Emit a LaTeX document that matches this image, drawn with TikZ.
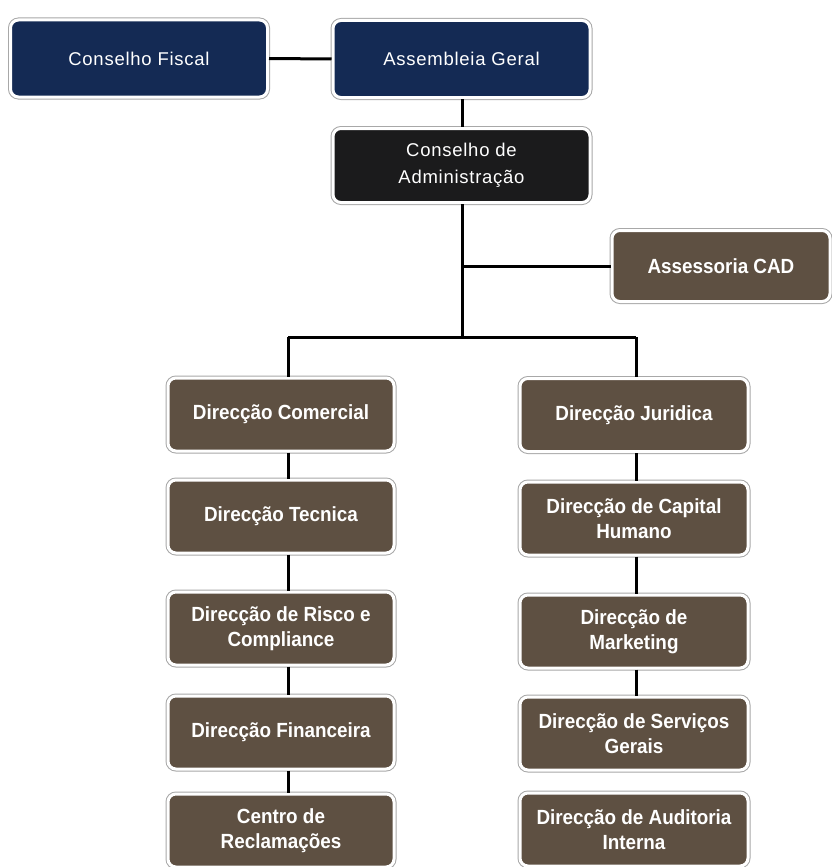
\documentclass[tikz,border=0pt]{standalone}
\usepackage{fontspec}
\setmainfont{Liberation Sans}
\newfontfamily\topfont[LetterSpace=4]{Liberation Sans}
\newfontfamily\brownfont[FakeStretch=0.92]{Liberation Sans Bold}
\definecolor{navy}{HTML}{142A54}
\definecolor{darkbox}{HTML}{1B1B1C}
\definecolor{brownbox}{HTML}{5E5042}
\definecolor{ringgray}{HTML}{A8A8A8}
\tikzset{
  box/.style={rounded corners=8pt, text=white, align=center, inner sep=0pt,
    draw=white, line width=3pt,
    preaction={draw=ringgray, line width=5pt}},
  topbox/.style={box, font={\topfont\fontsize{18.5}{27}\selectfont}},
  navybox/.style={topbox, fill=navy, minimum width=257pt, minimum height=77pt},
  blackbox/.style={topbox, fill=darkbox, minimum width=257pt, minimum height=74pt},
  brbox/.style={box, fill=brownbox, font={\brownfont\fontsize{20.5}{25}\selectfont},
    minimum width=226pt, minimum height=73pt},
  link/.style={draw=black, line width=3pt}
}
\begin{document}
\begin{tikzpicture}[x=1pt,y=-1pt]
\useasboundingbox (0,0) rectangle (832,867);
\fill[white] (0,0) rectangle (832,867);
% top
\node[navybox] (cf) at (139,58.5) {Conselho Fiscal};
\node[navybox] (ag) at (461.5,59) {Assembleia Geral};
\node[blackbox] (ca) at (461.5,165.5) {Conselho de\\Administração};
\node[brbox, minimum width=218pt, minimum height=71pt] (cad) at (721,266) {Assessoria CAD};
% left column
\node[brbox] (dc) at (281,414.5) {Direcção Comercial};
\node[brbox] (dt) at (281,516.5) {Direcção Tecnica};
\node[brbox] (dr) at (281,628.5) {Direcção de Risco e\\Compliance};
\node[brbox] (df) at (281,732.5) {Direcção Financeira};
\node[brbox] (cr) at (281,830.5) {Centro de\\Reclamações};
% right column
\node[brbox, minimum width=228pt] (dj) at (634,415) {Direcção Juridica};
\node[brbox, minimum width=228pt] (dh) at (634,518.5) {Direcção de Capital\\Humano};
\node[brbox, minimum width=228pt] (dm) at (634,631.5) {Direcção de\\Marketing};
\node[brbox, minimum width=228pt] (ds) at (634,733.5) {Direcção de Serviços\\Gerais};
\node[brbox, minimum width=228pt] (da) at (634,829.5) {Direcção de Auditoria\\Interna};
% helper coordinates
\coordinate (spine) at (462,0);
\coordinate (colL) at (288,0);
\coordinate (colR) at (636,0);
\coordinate (junc) at (462,337);
\coordinate (jL) at (288,337);
\coordinate (jR) at (636,337);
% connectors
\draw[link] (cf.east) -- (ag.west);
\draw[link] (ag.south -| spine) -- (ca.north -| spine);
\draw[link] (ca.south -| spine) -- (junc);
\draw[link] (cad.west -| spine) -- (cad.west);
\draw[link] (jL) -- (jR);
\draw[link] (jL) -- (dc.north -| colL);
\draw[link] (jR) -- (dj.north -| colR);
\draw[link] (dc.south -| colL) -- (dt.north -| colL);
\draw[link] (dt.south -| colL) -- (dr.north -| colL);
\draw[link] (dr.south -| colL) -- (df.north -| colL);
\draw[link] (df.south -| colL) -- (cr.north -| colL);
\draw[link] (dj.south -| colR) -- (dh.north -| colR);
\draw[link] (dh.south -| colR) -- (dm.north -| colR);
\draw[link] (dm.south -| colR) -- (ds.north -| colR);
\end{tikzpicture}
\end{document}
